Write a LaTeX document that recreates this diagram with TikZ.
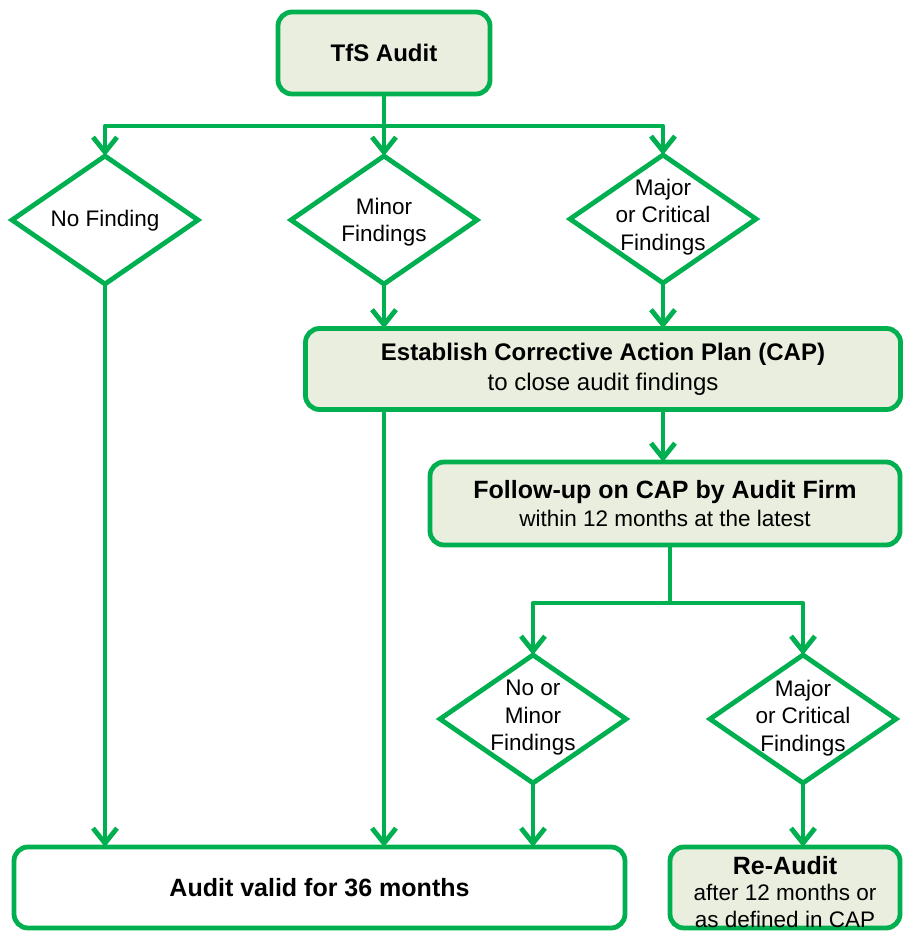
\documentclass[tikz,border=0pt]{standalone}
\usepackage{fontspec}
\setmainfont{Liberation Sans}
\usetikzlibrary{shapes.geometric,arrows.meta}
\definecolor{gline}{RGB}{0,176,80}
\definecolor{gfill}{RGB}{234,238,222}
\tikzset{
  lw/.style={line width=4.8pt},
  boxg/.style={draw=gline,lw,rounded corners=14pt,fill=gfill,inner sep=0pt,outer sep=0pt,align=center},
  boxw/.style={draw=gline,lw,rounded corners=14pt,fill=white,inner sep=0pt,outer sep=0pt,align=center},
  dia/.style={draw=gline,lw,diamond,inner sep=0pt,outer sep=0pt,minimum width=186pt,minimum height=128pt},
  dtext/.style={align=center,font=\fontsize{22.5}{27.5}\selectfont},
  conn/.style={draw=gline,lw,line join=round},
  arr/.style={conn,-{Straight Barb[length=15pt,width=24pt]}},
}
\begin{document}
\begin{tikzpicture}[x=1pt,y=-1pt]
\useasboundingbox (0,0) rectangle (904,933);
% boxes
\node[boxg,minimum width=212pt,minimum height=82pt,font=\fontsize{24}{29}\selectfont\bfseries] (tfs) at (384,53)
  {TfS Audit};
\node[dia] (d1) at (105,220) {};
\node[dtext] (t1) at (105,221) {No Finding};
\node[dia] (d2) at (384,220) {};
\node[dtext] (t2) at (384,222) {Minor\\Findings};
\node[dia] (d3) at (663,219) {};
\node[dtext] (t3) at (663,217) {Major\\or Critical\\Findings};
\node[boxg,minimum width=595pt,minimum height=81pt,font=\fontsize{24}{30}\selectfont] (cap) at (603,369)
  {{\bfseries Establish Corrective Action Plan (CAP)}\\to close audit findings};
\node[boxg,minimum width=470pt,minimum height=83pt,font=\fontsize{22.5}{27.5}\selectfont] (fu) at (665,503.5)
  {{\fontsize{25}{27.5}\selectfont\bfseries Follow-up on CAP by Audit Firm}\\within 12 months at the latest};
\node[dia] (d4) at (533,719) {};
\node[dtext] (t4) at (533,718) {No or\\Minor\\Findings};
\node[dia] (d5) at (803,719) {};
\node[dtext] (t5) at (803,718) {Major\\or Critical\\Findings};
\node[boxw,minimum width=611pt,minimum height=81pt,font=\fontsize{25}{30}\selectfont\bfseries] (valid) at (319.5,887.5)
  {Audit valid for 36 months};
\node[boxg,minimum width=230pt,minimum height=81pt] (re) at (785,887.5) {};
\node[align=center,font=\fontsize{22.5}{26.5}\selectfont] (ret) at (785,892)
  {{\fontsize{25}{26.5}\selectfont\bfseries Re-Audit}\\after 12 months or\\as defined in CAP};
% connectors
\coordinate (b1) at (384,126);
\coordinate (b2) at (670,603);
\draw[conn] (tfs.south) -- (b1);
\draw[arr] (b1) -| (d1.north);
\draw[arr] (b1) -| (d3.north);
\draw[arr] (b1) -- (d2.north);
\draw[arr] (d1.south) -- (d1.south |- valid.north);
\draw[arr] (d2.south) -- (d2.south |- cap.north);
\draw[arr] (d3.south) -- (d3.south |- cap.north);
\draw[arr] (d2.south |- cap.south) -- (d2.south |- valid.north);
\draw[arr] (d3.south |- cap.south) -- (d3.south |- fu.north);
\draw[conn] (b2 |- fu.south) -- (b2);
\draw[arr] (b2) -| (d4.north);
\draw[arr] (b2) -| (d5.north);
\draw[arr] (d4.south) -- (d4.south |- valid.north);
\draw[arr] (d5.south) -- (d5.south |- re.north);
\end{tikzpicture}
\end{document}
